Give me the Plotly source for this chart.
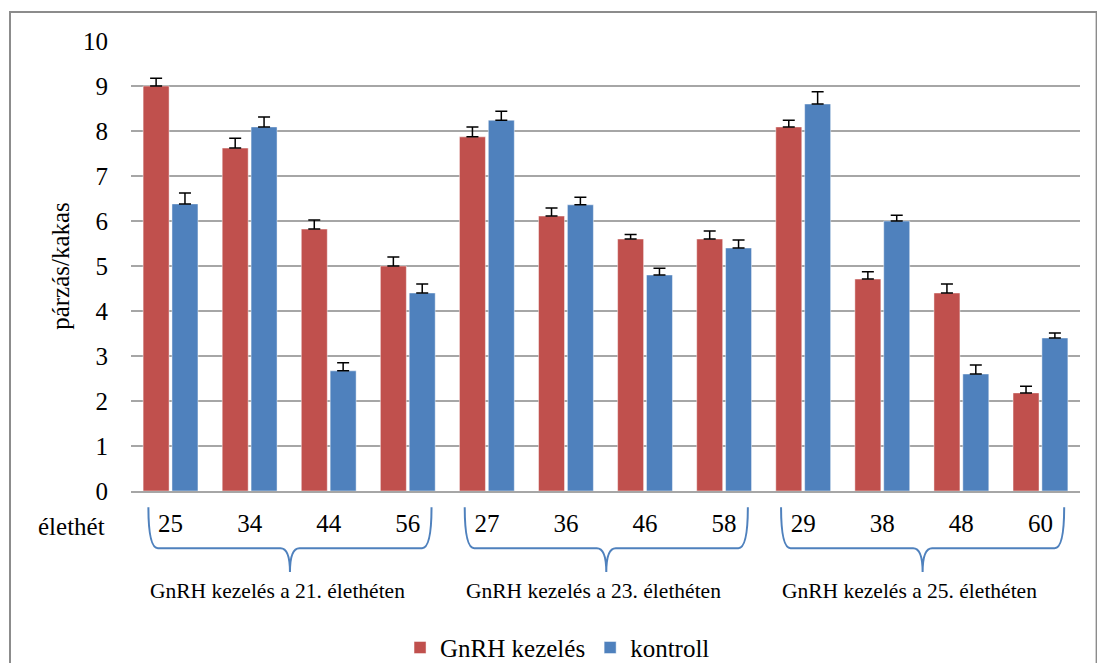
import plotly.graph_objects as go

# Age in weeks at each observation
ages = ["25", "34", "44", "56", "27", "36", "46", "58", "29", "38", "48", "60"]

# Matings per cock (mean) and standard error, treated vs. control
gnrh_values = [9.0, 7.62, 5.82, 5.0, 7.87, 6.11, 5.6, 5.6, 8.09, 4.71, 4.4, 2.18]
gnrh_errors = [0.17, 0.22, 0.2, 0.2, 0.22, 0.18, 0.1, 0.18, 0.15, 0.16, 0.2, 0.15]
control_values = [6.38, 8.09, 2.67, 4.4, 8.24, 6.36, 4.8, 5.4, 8.6, 6.0, 2.6, 3.4]
control_errors = [0.24, 0.22, 0.18, 0.2, 0.2, 0.17, 0.15, 0.18, 0.27, 0.13, 0.2, 0.11]

# Treatment groups: label and the index range of the ages they cover
group_labels = ["GnRH kezelés a 21. élethéten",
                "GnRH kezelés a 23. élethéten",
                "GnRH kezelés a 25. élethéten"]
group_ranges = [(0, 3), (4, 7), (8, 11)]

series_names = ["GnRH kezelés", "kontroll"]
RED = "#c0504d"
BLUE = "#4f81bd"
FONT = "Liberation Serif"

x_idx = list(range(len(ages)))

fig = go.Figure()
fig.add_trace(go.Bar(
    x=x_idx, y=gnrh_values, name=series_names[0],
    marker=dict(color=RED, line=dict(color="rgba(255,255,255,0.45)", width=1)),
    error_y=dict(type="data", array=gnrh_errors, arrayminus=[0] * len(gnrh_errors),
                 symmetric=False, color="black", thickness=1.5, width=6),
))
fig.add_trace(go.Bar(
    x=x_idx, y=control_values, name=series_names[1],
    marker=dict(color=BLUE, line=dict(color="rgba(255,255,255,0.45)", width=1)),
    error_y=dict(type="data", array=control_errors, arrayminus=[0] * len(control_errors),
                 symmetric=False, color="black", thickness=1.5, width=6),
))

# Curly braces under each treatment group and the group captions
y_top, y_bot, y_tip = -0.036, -0.127, -0.18
shapes = []
annotations = []
for (a, b), label in zip(group_ranges, group_labels):
    x0, x1 = a - 0.28, b + 0.3
    xc = (x0 + x1) / 2
    d = 0.12
    path = (f"M {x0},{y_top} Q {x0},{y_bot} {x0 + d},{y_bot} "
            f"L {xc - d},{y_bot} Q {xc},{y_bot} {xc},{y_tip} "
            f"Q {xc},{y_bot} {xc + d},{y_bot} "
            f"L {x1 - d},{y_bot} Q {x1},{y_bot} {x1},{y_top}")
    shapes.append(dict(type="path", path=path, xref="x", yref="paper",
                       line=dict(color=BLUE, width=2)))
    annotations.append(dict(text=label, x=(a + b) / 2 - 0.15, y=-0.222,
                            xref="x", yref="paper", showarrow=False,
                            xanchor="center", yanchor="middle",
                            font=dict(family=FONT, size=21.5, color="black")))

annotations.append(dict(text="élethét", x=-0.025, y=-0.078, xref="paper", yref="paper",
                        showarrow=False, xanchor="right", yanchor="middle",
                        font=dict(family=FONT, size=25, color="black")))

# Outer chart frame
shapes.append(dict(type="rect", xref="paper", yref="paper",
                   x0=-0.1275, x1=1.0175, y0=-0.42, y1=1.0644,
                   line=dict(color="#8c8c8c", width=2), fillcolor="rgba(0,0,0,0)",
                   layer="below"))

fig.update_layout(
    width=1097, height=663,
    margin=dict(l=131, r=17, t=41, b=172),
    paper_bgcolor="white", plot_bgcolor="white",
    barmode="group", bargap=0.27, bargroupgap=0.1,
    font=dict(family=FONT, color="black"),
    showlegend=True,
    legend=dict(orientation="h", x=0.2835, xanchor="left",
                yref="container", y=0.023, yanchor="middle",
                font=dict(family=FONT, size=25, color="black"), itemwidth=30,
                borderwidth=0),
    shapes=shapes, annotations=annotations,
)
fig.update_xaxes(
    tickmode="array", tickvals=x_idx, ticktext=ages,
    range=[-0.5, len(ages) - 0.5],
    showgrid=False, showline=True, linecolor="#a6a6a6", linewidth=1.5,
    ticks="outside", ticklen=9, tickcolor="rgba(0,0,0,0)",
    tickfont=dict(family=FONT, size=25, color="black"), zeroline=False,
)
fig.update_yaxes(
    range=[0, 10], dtick=1, tick0=0,
    showgrid=True, gridcolor="#a6a6a6", gridwidth=1.5,
    showline=False, zeroline=False,
    ticks="outside", ticklen=17, tickcolor="rgba(0,0,0,0)",
    tickfont=dict(family=FONT, size=25, color="black"),
    title=dict(text="párzás/kakas", font=dict(family=FONT, size=25, color="black"), standoff=6),
)

fig.write_html("out.html")
